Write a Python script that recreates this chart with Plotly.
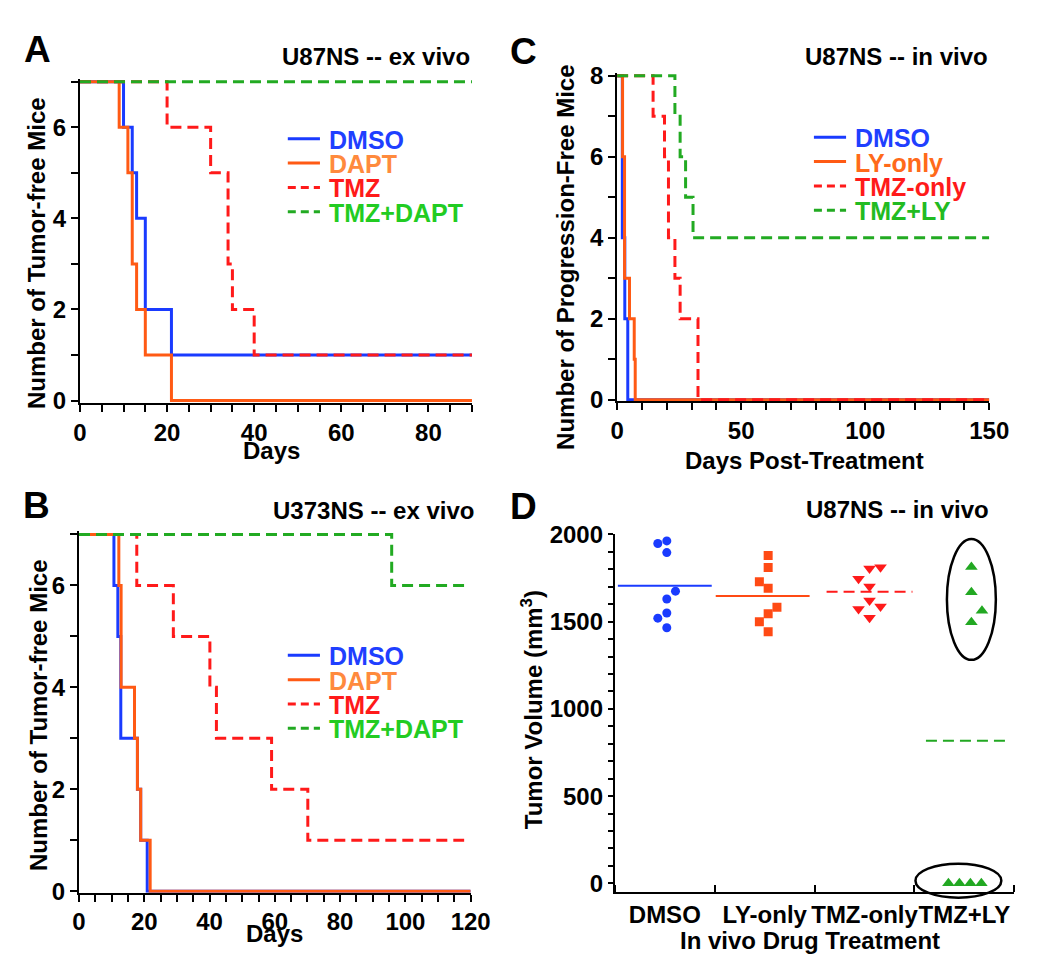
import plotly.graph_objects as go

W, H = 1050, 960
FONT = 'Liberation Sans, Arial, Helvetica, sans-serif'
BLUE = '#1a3bff'
ORANGE = '#ff5a14'
RED = '#ff1a1a'
GREEN = '#22aa22'

# ---- panel A : U87NS ex vivo ----
a_dmso_days = [0, 10, 12, 13, 15, 21, 90]
a_dmso_mice = [7, 6, 5, 4, 2, 1, 1]
a_dapt_days = [0, 9, 11, 12, 13, 15, 21, 90]
a_dapt_mice = [7, 6, 5, 3, 2, 1, 0, 0]
a_tmz_days = [0, 20, 30, 34, 35, 40, 90]
a_tmz_mice = [7, 6, 5, 3, 2, 1, 1]
a_combo_days = [0, 90]
a_combo_mice = [7, 7]

# ---- panel B : U373NS ex vivo ----
b_dmso_days = [0, 10.7, 11.9, 12.8, 17.9, 18.9, 20.9, 120]
b_dmso_mice = [7, 6, 5, 3, 2, 1, 0, 0]
b_dapt_days = [0, 12.2, 12.9, 17.0, 17.9, 18.9, 21.8, 120]
b_dapt_mice = [7, 6, 4, 3, 2, 1, 0, 0]
b_tmz_days = [0, 17.7, 28.9, 40.1, 42.1, 59.0, 70.1, 118]
b_tmz_mice = [7, 6, 5, 4, 3, 2, 1, 1]
b_combo_days = [0, 95.8, 119]
b_combo_mice = [7, 6, 6]

# ---- panel C : U87NS in vivo ----
c_dmso_days = [0, 2.1, 3.1, 4.3, 150]
c_dmso_mice = [8, 4, 2, 0, 0]
c_ly_days = [0, 2.2, 3.0, 5.0, 6.9, 7.3, 150]
c_ly_mice = [8, 6, 3, 2, 1, 0, 0]
c_tmz_days = [0, 14.5, 19.1, 20.7, 23.3, 25.4, 32.6, 150]
c_tmz_mice = [8, 7, 6, 4, 3, 2, 0, 0]
c_combo_days = [0, 23.3, 25.4, 27.6, 30.6, 150]
c_combo_mice = [8, 7, 6, 5, 4, 4]

# ---- panel D : tumor volume (mm3) ----
d_groups = ['DMSO', 'LY-only', 'TMZ-only', 'TMZ+LY']
d_dmso = [1948, 1963, 1896, 1675, 1630, 1550, 1520, 1465]
d_ly = [1879, 1810, 1729, 1692, 1582, 1545, 1500, 1442]
d_tmz = [1805, 1812, 1746, 1701, 1621, 1573, 1587, 1523]
d_combo = [1814, 1669, 1563, 1496, 0, 0, 0, 0]

# horizontal scatter of the dots inside each group (category units)
d_jitter = [
    [-0.07, 0.02, 0.02, 0.107, 0.02, 0.02, -0.07, 0.02],
    [0.035, 0.035, -0.053, 0.035, 0.123, 0.035, -0.053, 0.035],
    [0.05, 0.16, -0.06, 0.05, 0.05, -0.06, 0.16, 0.05],
    [0.07, 0.07, 0.176, 0.07, -0.16, -0.05, 0.06, 0.17],
]
d_mean_span = [(-0.47, 0.47), (-0.49, 0.45), (-0.38, 0.48), (-0.385, 0.46)]


def px(x):
    return x / W


def py(y):
    return 1 - y / H


fig = go.Figure()

DASH = '11px,6px'


def km(days, mice, color, dash, ax):
    fig.add_trace(go.Scatter(
        x=days, y=mice, mode='lines', line_shape='hv',
        line=dict(color=color, width=3, dash=dash),
        xaxis='x' + ax, yaxis='y' + ax, showlegend=False
    ))


km(a_dmso_days, a_dmso_mice, BLUE, 'solid', '')
km(a_dapt_days, a_dapt_mice, ORANGE, 'solid', '')
km(a_tmz_days, a_tmz_mice, RED, DASH, '')
km(a_combo_days, a_combo_mice, GREEN, DASH, '')

km(b_dmso_days, b_dmso_mice, BLUE, 'solid', '2')
km(b_dapt_days, b_dapt_mice, ORANGE, 'solid', '2')
km(b_tmz_days, b_tmz_mice, RED, DASH, '2')
km(b_combo_days, b_combo_mice, GREEN, DASH, '2')

km(c_dmso_days, c_dmso_mice, BLUE, 'solid', '3')
km(c_ly_days, c_ly_mice, ORANGE, 'solid', '3')
km(c_tmz_days, c_tmz_mice, RED, DASH, '3')
km(c_combo_days, c_combo_mice, GREEN, DASH, '3')

# panel D: mean lines then dots
d_vals = [d_dmso, d_ly, d_tmz, d_combo]
d_colors = [BLUE, '#ff4a14', RED, '#22a822']
d_symbols = ['circle', 'square', 'triangle-down', 'triangle-up']
d_sizes = [9, 9, 11, 11]
d_dash = ['solid', 'solid', DASH, DASH]
for i, vals in enumerate(d_vals):
    m = sum(vals) / len(vals)
    lo, hi = d_mean_span[i]
    fig.add_trace(go.Scatter(
        x=[i + lo, i + hi], y=[m, m], mode='lines',
        line=dict(color=d_colors[i], width=2, dash=d_dash[i]),
        xaxis='x4', yaxis='y4', showlegend=False
    ))
for i, vals in enumerate(d_vals):
    fig.add_trace(go.Scatter(
        x=[i + j for j in d_jitter[i]], y=vals, mode='markers',
        marker=dict(color=d_colors[i], symbol=d_symbols[i], size=d_sizes[i]),
        xaxis='x4', yaxis='y4', showlegend=False
    ))


def ax_style(**kw):
    st = dict(showline=True, linecolor='black', linewidth=2,
              ticks='outside', ticklen=7, tickwidth=2, tickcolor='black',
              showgrid=False, zeroline=False,
              tickfont=dict(family=FONT, size=24, color='black', weight='bold'))
    st.update(kw)
    return st


def minor(step, side='outside', ln=7, t0=None):
    m = dict(dtick=step, ticks=side, ticklen=ln, tickwidth=2, tickcolor='black')
    if t0 is not None:
        m['tick0'] = t0
    return m


fig.update_layout(
    width=W, height=H,
    margin=dict(l=0, r=0, t=0, b=0),
    plot_bgcolor='white', paper_bgcolor='white',
    font=dict(family=FONT, size=24, color='black', weight='bold'),
    showlegend=False,
    xaxis=ax_style(domain=[px(66.7), px(469)], range=[0, 90], dtick=20,
                   minor=minor(5), anchor='y'),
    yaxis=ax_style(domain=[py(391.5), py(58.5)], range=[-0.05, 7.06], tickvals=[0, 2, 4, 6],
                   minor=minor(1), anchor='x'),
    xaxis2=ax_style(domain=[px(65.7), px(467.7)], range=[0, 120], dtick=20,
                    minor=minor(5), anchor='y2'),
    yaxis2=ax_style(domain=[py(894.9), py(523.6)], range=[-0.03, 7.06], tickvals=[0, 2, 4, 6],
                    minor=minor(1), anchor='x2'),
    xaxis3=ax_style(domain=[px(618), px(1000)], range=[0, 150], dtick=50,
                    minor=minor(10), anchor='y3'),
    yaxis3=ax_style(domain=[py(390), py(52)], range=[-0.04, 8.08], tickvals=[0, 2, 4, 6, 8],
                    minor=minor(1), anchor='x3'),
    xaxis4=ax_style(domain=[px(615.7), px(1025.7)], range=[-0.5, 3.5],
                    tickvals=[0, 1, 2, 3], ticktext=d_groups, ticks='', tickangle=0,
                    minor=minor(1, 'inside', 7, 0.5), anchor='y4'),
    yaxis4=ax_style(domain=[py(894.3), py(526.7)], range=[-50, 2000], dtick=500, ticklen=5,
                    minor=minor(100, 'outside', 5), anchor='x4'),
)

ann = []


def text(s, x, y, size=24, xanchor='center', angle=0, color='black'):
    ann.append(dict(text=s, x=px(x), y=py(y), xref='paper', yref='paper',
                    xanchor=xanchor, yanchor='middle', showarrow=False, textangle=angle,
                    font=dict(family=FONT, size=size, color=color, weight='bold')))


# panel letters and titles
text('A', 23, 28, size=37)
text('B', 22.5, 497, size=37)
text('C', 522, 30, size=37)
text('D', 522, 498, size=37)
text('U87NS -- ex vivo', 469, 35, xanchor='right')
text('U373NS -- ex vivo', 473, 502, xanchor='right')
text('U87NS -- in vivo', 1001, 35, xanchor='right')
text('U87NS -- in vivo', 1002, 501, xanchor='right')

# axis titles
text('Days', 263, 440)
text('Days', 266, 937)
text('Days Post-Treatment', 810, 451)
text('In vivo Drug Treatment', 816, 944)
text('Number of Tumor-free Mice', 22, 237, angle=-90)
text('Number of Tumor-free Mice', 24, 712, angle=-90)
text('Number of Progression-Free Mice', 565, 242, angle=-90)
text('Tumor Volume (mm<sup>3</sup>)', 530, 707, angle=-90)

shapes = []

# hand-made legends: (label, line colour, text colour, dashed)
legend_ab = [('DMSO', BLUE, '#1f3fff', False), ('DAPT', ORANGE, '#ff8a3d', False),
             ('TMZ', RED, '#ff1a1a', True), ('TMZ+DAPT', GREEN, '#22cc22', True)]
legend_c = [('DMSO', BLUE, '#1f3fff', False), ('LY-only', ORANGE, '#ff6a1a', False),
            ('TMZ-only', RED, '#ff1a1a', True), ('TMZ+LY', GREEN, '#22bb22', True)]


def legend(items, x0, y0, step=25):
    for k, (lab, lc, tc, dashed) in enumerate(items):
        yy = y0 + k * step
        shapes.append(dict(type='line', xref='paper', yref='paper',
                           x0=px(x0), x1=px(x0 + 33), y0=py(yy), y1=py(yy),
                           line=dict(color=lc, width=3, dash='8px,5px' if dashed else 'solid')))
        text(lab, x0 + 40, yy + 1, size=25, xanchor='left', color=tc)


legend(legend_ab, 280, 120)
legend(legend_ab, 280, 651)
legend(legend_c, 820, 118.5)

# ellipses around the two TMZ+LY sub-groups (panel D)
x4r = (-0.5, 3.5)
y4r = (-50, 2000)


def xd(v):
    return (v - x4r[0]) / (x4r[1] - x4r[0])


def yd(v):
    return (v - y4r[0]) / (y4r[1] - y4r[0])


hi_grp = [v for v in d_combo if v > 1000]
lo_grp = [v for v in d_combo if v <= 1000]
shapes.append(dict(type='circle', xref='x4 domain', yref='y4 domain',
                   x0=xd(3 + 0.07 - 0.245), x1=xd(3 + 0.07 + 0.245),
                   y0=yd(min(hi_grp) - 215), y1=yd(max(hi_grp) + 160),
                   line=dict(color='black', width=2.5)))
shapes.append(dict(type='circle', xref='x4 domain', yref='y4 domain',
                   x0=xd(2.51), x1=xd(3.37),
                   y0=yd(min(lo_grp) - 82), y1=yd(max(lo_grp) + 113),
                   line=dict(color='black', width=2.5)))

fig.update_layout(annotations=ann, shapes=shapes)

fig.write_html('out.html')
